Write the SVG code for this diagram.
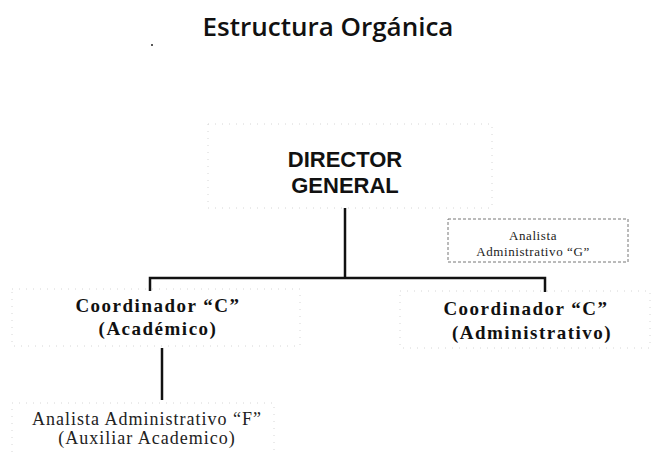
<svg xmlns="http://www.w3.org/2000/svg" width="664" height="454" viewBox="0 0 664 454">
<style>
.box{fill:none;stroke:#d6d6d6;stroke-width:1;stroke-dasharray:1 6}
.boxg{fill:none;stroke:#777;stroke-width:1;stroke-dasharray:3 2}
.line{stroke:#111;stroke-width:2.5;fill:none}
.title{font-family:"Open Sans","Liberation Sans",sans-serif;font-size:26px;font-weight:600;fill:#111;text-anchor:middle}
.dir{font-family:"Liberation Sans",Arial,sans-serif;font-size:22px;font-weight:bold;fill:#111;text-anchor:middle}
.coord{font-family:"Liberation Serif","Times New Roman",serif;font-size:19px;font-weight:bold;fill:#111;text-anchor:middle;letter-spacing:1.5px}
.small{font-family:"Liberation Serif","Times New Roman",serif;font-size:13px;fill:#222;text-anchor:middle;letter-spacing:0.6px}
.mid{font-family:"Liberation Serif","Times New Roman",serif;font-size:18px;fill:#222;text-anchor:middle;letter-spacing:1px}
</style>
<rect width="664" height="454" fill="#fff"/>
<text class="title" x="328" y="36">Estructura Orgánica</text>
<circle cx="152" cy="45" r="1" fill="#222"/>
<g id="connectors">
<path class="line" d="M345,208 V278"/>
<path class="line" d="M150,291 V278 H545 V292"/>
<path class="line" d="M162,348 V400"/>
</g>
<g id="director">
<rect class="box" x="208" y="124" width="284" height="84"/>
<text class="dir" x="345" y="167">DIRECTOR</text>
<text class="dir" x="345" y="193">GENERAL</text>
</g>
<g id="analista-g">
<rect class="boxg" x="448" y="219" width="180" height="43"/>
<text class="small" x="533" y="240">Analista</text>
<text class="small" x="533" y="256">Administrativo “G”</text>
</g>
<g id="coord-academico">
<rect class="box" x="12" y="289" width="288" height="57"/>
<text class="coord" x="158" y="312">Coordinador “C”</text>
<text class="coord" x="158" y="335">(Académico)</text>
</g>
<g id="coord-administrativo">
<rect class="box" x="400" y="291" width="250" height="57"/>
<text class="coord" x="526" y="315">Coordinador  “C”</text>
<text class="coord" x="532" y="339">(Administrativo)</text>
</g>
<g id="analista-f">
<rect class="box" x="12" y="403" width="262" height="60"/>
<text class="mid" x="147" y="425">Analista Administrativo “F”</text>
<text class="mid" x="147" y="444">(Auxiliar Academico)</text>
</g>
</svg>
